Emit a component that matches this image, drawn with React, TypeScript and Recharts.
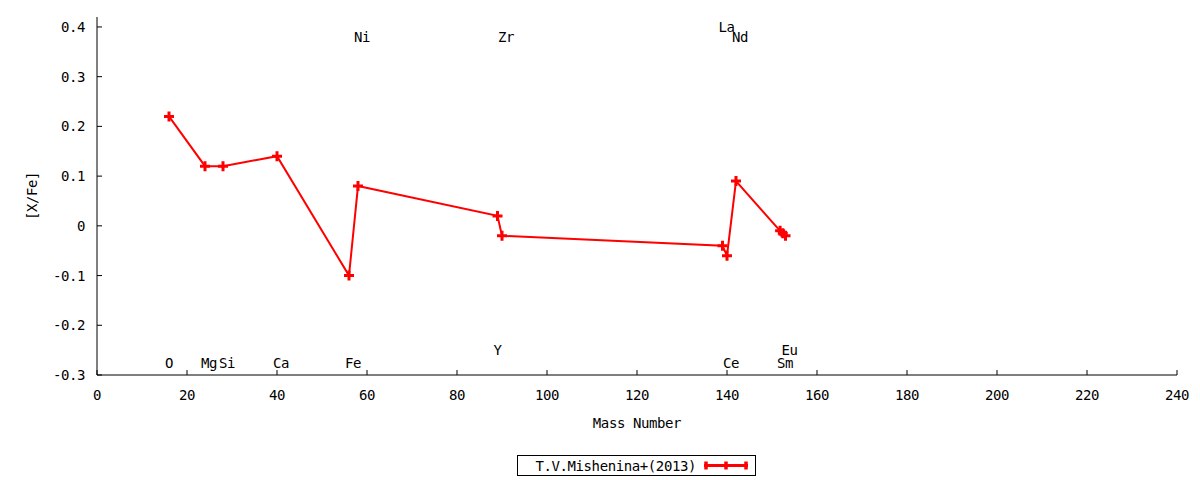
import React from 'react';
import { LineChart, Line, XAxis, YAxis, ReferenceDot, Legend } from 'recharts';

const masses = [16, 24, 28, 40, 56, 58, 89, 90, 139, 140, 142, 151.8, 152.4, 153];
const xfe = [0.22, 0.12, 0.12, 0.14, -0.1, 0.08, 0.02, -0.02, -0.04, -0.06, 0.09, -0.01, -0.015, -0.02];

// element names drawn in the plot
const labelNames = ['O', 'Mg', 'Si', 'Ca', 'Fe', 'Ni', 'Y', 'Zr', 'La', 'Ce', 'Nd', 'Sm', 'Eu'];
const labelMasses = [16, 24, 28, 40, 56, 58, 89, 90, 139, 140, 142, 152, 153];
const labelLevels = [-0.275, -0.275, -0.275, -0.275, -0.275, 0.38, -0.25, 0.38, 0.4, -0.275, 0.38, -0.275, -0.25];

const xTicks = [0, 20, 40, 60, 80, 100, 120, 140, 160, 180, 200, 220, 240];
const yTicks = [-0.3, -0.2, -0.1, 0, 0.1, 0.2, 0.3, 0.4];

const SERIES = 'T.V.Mishenina+(2013)';
const RED = '#ff0000';
const TICK = 5;
const font = { fontFamily: '"DejaVu Sans Mono", monospace', fontSize: 14, letterSpacing: -0.4, fill: '#000' };

const data = masses.map((m, i) => ({ mass: m, xfe: xfe[i] }));

const BottomTick = ({ x, y, payload }: any) => (
  <g>
    <line x1={x} x2={x} y1={y} y2={y - TICK} stroke="#000" />
    <text x={x} y={y + 20} dy="0.36em" textAnchor="middle" {...font}>{payload.value}</text>
  </g>
);

const TopTick = ({ x, y }: any) => <line x1={x} x2={x} y1={y} y2={y + TICK} stroke="#000" />;

const LeftTick = ({ x, y, payload }: any) => (
  <g>
    <line x1={x} x2={x + TICK} y1={y} y2={y} stroke="#000" />
    <text x={x - 12} y={y} dy="0.36em" textAnchor="end" {...font}>{String(payload.value)}</text>
  </g>
);

const RightTick = ({ x, y }: any) => <line x1={x} x2={x - TICK} y1={y} y2={y} stroke="#000" />;

const Cross = ({ cx, cy }: any) => {
  if (cx == null || cy == null) return null;
  return <path d={`M${cx - 5},${cy}H${cx + 5}M${cx},${cy - 5}V${cy + 5}`} stroke={RED} strokeWidth={3} fill="none" />;
};

const LegendBox = () => (
  <svg width={239} height={21} style={{ display: 'block' }}>
    <rect x={0.5} y={0.5} width={238} height={20} fill="#fff" stroke="#000" />
    <text x={179} y={10.5} dy="0.36em" textAnchor="end" {...font}>{SERIES}</text>
    <line x1={187} x2={231} y1={10.5} y2={10.5} stroke={RED} strokeWidth={3} />
    {[189, 209, 229].map(x => (
      <line key={x} x1={x} x2={x} y1={6.5} y2={14.5} stroke={RED} strokeWidth={3.5} />
    ))}
  </svg>
);

export default function App() {
  return (
    <div style={{ position: 'absolute', left: 0, top: 0 }}>
      <LineChart width={1200} height={480} data={data} margin={{ top: 17, right: 23, bottom: 0, left: 0 }}>
        <XAxis
          xAxisId="bottom" dataKey="mass" type="number" domain={[0, 240]} ticks={xTicks} interval={0}
          allowDataOverflow height={105} stroke="#000" tickLine={false} tickSize={0} tickMargin={0}
          tick={<BottomTick />}
          label={{ value: 'Mass Number', position: 'insideTop', offset: 43, ...font }}
        />
        <XAxis
          xAxisId="top" orientation="top" dataKey="mass" type="number" domain={[0, 240]} ticks={xTicks} interval={0}
          allowDataOverflow height={0} stroke="#000" tickLine={false} tickSize={0} tickMargin={0}
          tick={<TopTick />}
        />
        <YAxis
          yAxisId="left" dataKey="xfe" type="number" domain={[-0.3, 0.42]} ticks={yTicks} interval={0}
          allowDataOverflow width={97} stroke="#000" tickLine={false} tickSize={0} tickMargin={0}
          tick={<LeftTick />}
          label={{
            content: ({ viewBox }: any) => (
              <text
                x={viewBox.x + 32} y={viewBox.y + viewBox.height / 2} dy="0.36em" textAnchor="middle"
                transform={`rotate(-90 ${viewBox.x + 32} ${viewBox.y + viewBox.height / 2})`} {...font}
              >[X/Fe]</text>
            ),
          }}
        />
        <YAxis
          yAxisId="right" orientation="right" dataKey="xfe" type="number" domain={[-0.3, 0.42]} ticks={yTicks} interval={0}
          allowDataOverflow width={0} stroke="#000" tickLine={false} tickSize={0} tickMargin={0}
          tick={<RightTick />}
        />
        {labelNames.map((name, i) => (
          <ReferenceDot
            key={name} xAxisId="bottom" yAxisId="left" x={labelMasses[i] - 0.9} y={labelLevels[i]} r={0}
            shape={(p: any) => <text x={p.cx} y={p.cy} dy="0.36em" textAnchor="start" {...font}>{name}</text>}
          />
        ))}
        <Line
          xAxisId="bottom" yAxisId="left" dataKey="xfe" name={SERIES} stroke={RED} strokeWidth={2}
          dot={<Cross />} activeDot={false} isAnimationActive={false}
        />
        <Legend
          layout="horizontal" verticalAlign="middle" align="center"
          wrapperStyle={{ left: 517, top: 455, width: 239, height: 21 }}
          content={() => <LegendBox />}
        />
      </LineChart>
    </div>
  );
}
